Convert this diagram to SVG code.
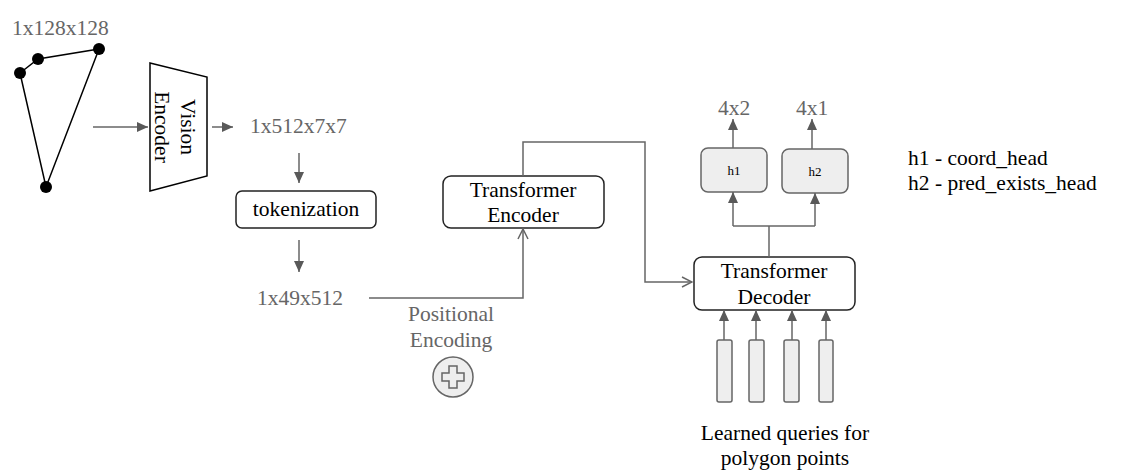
<svg xmlns="http://www.w3.org/2000/svg" width="1122" height="475" viewBox="0 0 1122 475">
<style>
.g{fill:#666666}
.ln{fill:none;stroke:#666666;stroke-width:1.5}
.box{fill:#ffffff;stroke:#222222;stroke-width:1.5}
.gb{fill:#eeeeee;stroke:#666666;stroke-width:1.5}
</style>
<defs>
<marker id="ah" markerUnits="userSpaceOnUse" markerWidth="12" markerHeight="10" refX="11" refY="5" orient="auto">
<path d="M0,0 L11,5 L0,10 z" fill="#595959"/>
</marker>
<marker id="oh" markerUnits="userSpaceOnUse" markerWidth="12" markerHeight="12" refX="11" refY="6" orient="auto">
<path d="M1,1 L11,6 L1,11" fill="none" stroke="#666666" stroke-width="1.5"/>
</marker>
</defs>
<rect width="1122" height="475" fill="#ffffff"/>

<g id="input">
<text class="g" font-family="Liberation Serif" font-size="21.5" x="12" y="35">1x128x128</text>
<polyline points="20,73 38,59 99,49 46,187 20,73" fill="none" stroke="#000" stroke-width="1.5"/>
<circle cx="20" cy="73" r="6" fill="#000"/>
<circle cx="38" cy="59" r="6" fill="#000"/>
<circle cx="99" cy="49" r="6" fill="#000"/>
<circle cx="46" cy="187" r="6" fill="#000"/>
</g>

<g id="vision-encoder">
<polygon points="150,63 207,77 207,176 150,191" fill="#fff" stroke="#000" stroke-width="1.5"/>
<g transform="translate(174,127) rotate(90)">
<text font-family="Liberation Serif" font-size="21.5" text-anchor="middle" x="0" y="-6.5">Vision</text>
<text font-family="Liberation Serif" font-size="21.5" text-anchor="middle" x="0" y="19.5">Encoder</text>
</g>
</g>

<g id="feat">
<text class="g" font-family="Liberation Serif" font-size="21.5" x="250" y="133">1x512x7x7</text>
</g>

<g id="tokenization">
<rect class="box" x="236" y="191" width="140" height="37" rx="6"/>
<text font-family="Liberation Serif" font-size="21.5" text-anchor="middle" x="306" y="216">tokenization</text>
</g>

<g id="tokens">
<text class="g" font-family="Liberation Serif" font-size="21.5" x="257" y="305">1x49x512</text>
</g>

<g id="pos-enc">
<text class="g" font-family="Liberation Serif" font-size="21.5" text-anchor="middle" x="451" y="321">Positional</text>
<text class="g" font-family="Liberation Serif" font-size="21.5" text-anchor="middle" x="451" y="347">Encoding</text>
<circle class="gb" cx="453" cy="377" r="20"/>
<path d="M449,366 H457 V373 H464 V381 H457 V388 H449 V381 H442 V373 H449 Z" fill="none" stroke="#666666" stroke-width="1.5"/>
</g>

<g id="transformer-encoder">
<rect class="box" x="443" y="176" width="161" height="52" rx="8"/>
<text font-family="Liberation Serif" font-size="21.5" text-anchor="middle" x="523" y="197">Transformer</text>
<text font-family="Liberation Serif" font-size="21.5" text-anchor="middle" x="523" y="222">Encoder</text>
</g>

<g id="transformer-decoder">
<rect class="box" x="694" y="257" width="161" height="53" rx="8"/>
<text font-family="Liberation Serif" font-size="21.5" text-anchor="middle" x="774" y="278">Transformer</text>
<text font-family="Liberation Serif" font-size="21.5" text-anchor="middle" x="774" y="304">Decoder</text>
</g>

<g id="h1">
<rect class="gb" x="701" y="148" width="66" height="44" rx="7"/>
<text font-family="Liberation Serif" font-size="13" text-anchor="middle" x="734" y="175">h1</text>
</g>
<g id="h2">
<rect class="gb" x="782" y="149" width="66" height="44" rx="7"/>
<text font-family="Liberation Serif" font-size="13" text-anchor="middle" x="815" y="176">h2</text>
</g>

<g id="outputs">
<text class="g" font-family="Liberation Serif" font-size="21.5" text-anchor="middle" x="734" y="115">4x2</text>
<text class="g" font-family="Liberation Serif" font-size="21.5" text-anchor="middle" x="812" y="115">4x1</text>
</g>

<g id="queries">
<rect class="gb" x="717" y="340" width="15" height="62" rx="2"/>
<rect class="gb" x="749" y="340" width="15" height="62" rx="2"/>
<rect class="gb" x="784" y="340" width="15" height="62" rx="2"/>
<rect class="gb" x="819" y="340" width="14" height="62" rx="2"/>
<text font-family="Liberation Serif" font-size="21.5" text-anchor="middle" x="785" y="440">Learned queries for</text>
<text font-family="Liberation Serif" font-size="21.5" text-anchor="middle" x="785" y="465">polygon points</text>
</g>

<g id="legend">
<text font-family="Liberation Serif" font-size="21.5" x="908" y="165">h1 - coord_head</text>
<text font-family="Liberation Serif" font-size="21.5" x="908" y="190">h2 - pred_exists_head</text>
</g>

<g id="connectors">
<line class="ln" x1="93" y1="127" x2="148" y2="127" marker-end="url(#ah)"/>
<line class="ln" x1="212" y1="127" x2="233" y2="127" marker-end="url(#ah)"/>
<line class="ln" x1="299" y1="153" x2="299" y2="183" marker-end="url(#ah)"/>
<line class="ln" x1="299" y1="240" x2="299" y2="272" marker-end="url(#ah)"/>
<polyline class="ln" points="369,298 523,298 523,229" marker-end="url(#oh)"/>
<polyline class="ln" points="523,176 523,142 645,142 645,282 692,282" marker-end="url(#oh)"/>
<polyline class="ln" points="769,257 769,226"/>
<polyline class="ln" points="733,226 815,226"/>
<line class="ln" x1="733" y1="226" x2="733" y2="192" marker-end="url(#ah)"/>
<line class="ln" x1="815" y1="226" x2="815" y2="193" marker-end="url(#ah)"/>
<line class="ln" x1="733" y1="148" x2="733" y2="119" marker-end="url(#ah)"/>
<line class="ln" x1="812" y1="149" x2="812" y2="119" marker-end="url(#ah)"/>
<line class="ln" x1="724" y1="340" x2="724" y2="310" marker-end="url(#ah)"/>
<line class="ln" x1="756" y1="340" x2="756" y2="310" marker-end="url(#ah)"/>
<line class="ln" x1="792" y1="340" x2="792" y2="310" marker-end="url(#ah)"/>
<line class="ln" x1="826" y1="340" x2="826" y2="310" marker-end="url(#ah)"/>
</g>
</svg>
